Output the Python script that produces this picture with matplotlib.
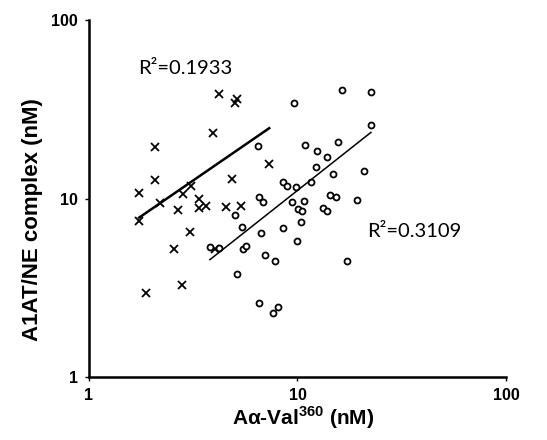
import numpy as np
import matplotlib
matplotlib.use("Agg")
import matplotlib.pyplot as plt
from matplotlib.ticker import FixedLocator, NullLocator

plt.rcParams['font.family'] = ['Liberation Sans', 'DejaVu Sans']
plt.rcParams['mathtext.fontset'] = 'custom'
plt.rcParams['mathtext.rm'] = 'Liberation Sans'
plt.rcParams['mathtext.bf'] = 'Liberation Sans:bold'

# crosses series (x = A-alpha-Val360, y = A1AT/NE complex), nM
cross_x = [4.22, 5.11, 5.02, 3.92, 2.08, 2.08, 4.83, 7.32, 1.74, 3.08, 2.83, 2.19,
           1.74, 2.66, 3.38, 3.38, 3.64, 4.54, 5.34, 3.05, 2.56, 2.78, 1.87, 4.02]
cross_y = [38.5, 35.9, 34.1, 23.4, 19.5, 12.7, 12.9, 15.6, 10.8, 11.7, 10.6, 9.47,
           7.51, 8.62, 9.9, 8.81, 9.08, 9.0, 9.08, 6.52, 5.21, 3.28, 2.94, 5.19]

# open circles series
circ_x = [16.3, 22.4, 9.65, 22.5, 6.44, 10.9, 12.4, 15.6, 13.8, 12.3, 14.8, 20.9,
          8.55, 8.94, 9.88, 11.65, 6.56, 14.3, 15.3, 19.4, 6.86, 9.38, 10.7, 13.2,
          13.8, 10.1, 10.5, 10.4, 5.01, 5.40, 6.66, 8.55, 9.98, 17.2, 5.46, 5.66,
          6.96, 7.83, 5.15, 6.56, 7.60, 8.03, 3.80, 4.22]
circ_y = [40.5, 39.4, 34.4, 25.7, 19.7, 19.9, 18.5, 20.8, 17.0, 15.1, 13.7, 14.2,
          12.3, 11.8, 11.6, 12.4, 10.2, 10.4, 10.2, 9.8, 9.6, 9.6, 9.68, 8.88,
          8.51, 8.70, 8.54, 7.41, 8.08, 6.90, 6.43, 6.81, 5.78, 4.48, 5.21, 5.42,
          4.84, 4.45, 3.79, 2.61, 2.29, 2.48, 5.37, 5.26]

# power trendlines y = c * x^k
fit_cross = (5.01, 0.803)
fit_circ = (1.325, 0.923)
r2_cross = "R\u00b2=0.1933"
r2_circ = "R\u00b2=0.3109"

ticks = [1, 10, 100]
tick_labels = ["1", "10", "100"]

fig = plt.figure(figsize=(5.47, 4.40), dpi=100)
ax = fig.add_axes([0.1627, 0.1432, 0.7623, 0.8113])

ax.plot(cross_x, cross_y, ls='none', marker='x', ms=6, mew=1.3, color='black')
ax.plot(circ_x, circ_y, ls='none', marker='o', ms=4.3, mew=1.3,
        mfc='white', mec='black')

xs = np.array([min(cross_x), max(cross_x)])
ax.plot(xs, fit_cross[0] * xs ** fit_cross[1], color='black', lw=1.8)
xs = np.array([min(circ_x), max(circ_x)])
ax.plot(xs, fit_circ[0] * xs ** fit_circ[1], color='black', lw=1.1)

ax.text(1.72, 53.8, r2_cross, fontsize=14.5, family=['Lato', 'DejaVu Sans'], va='center')
ax.text(21.5, 6.52, r2_circ, fontsize=14.5, family=['Lato', 'DejaVu Sans'], va='center')

ax.set_xscale('log')
ax.set_yscale('log')
ax.set_xlim(1, 100)
ax.set_ylim(1, 100)
ax.xaxis.set_major_locator(FixedLocator(ticks))
ax.yaxis.set_major_locator(FixedLocator(ticks))
ax.xaxis.set_minor_locator(NullLocator())
ax.yaxis.set_minor_locator(NullLocator())
ax.set_xticklabels(tick_labels, fontweight='bold', fontsize=11.5)
ax.set_yticklabels(tick_labels, fontweight='bold', fontsize=11.5)
ax.tick_params(direction='out', length=3, width=1, pad=5)

for s in ['top', 'right']:
    ax.spines[s].set_visible(False)
for s in ['left', 'bottom']:
    ax.spines[s].set_linewidth(1.8)

ax.set_xlabel("A\u03b1-Val$^{\\mathbf{360}}$ (nM)", fontsize=15, fontweight='bold',
              x=0.513, labelpad=1)
ax.set_ylabel("A1AT/NE complex (nM)", fontsize=16, fontweight='bold', y=0.44, labelpad=6)

fig.savefig("out.png", dpi=100)
